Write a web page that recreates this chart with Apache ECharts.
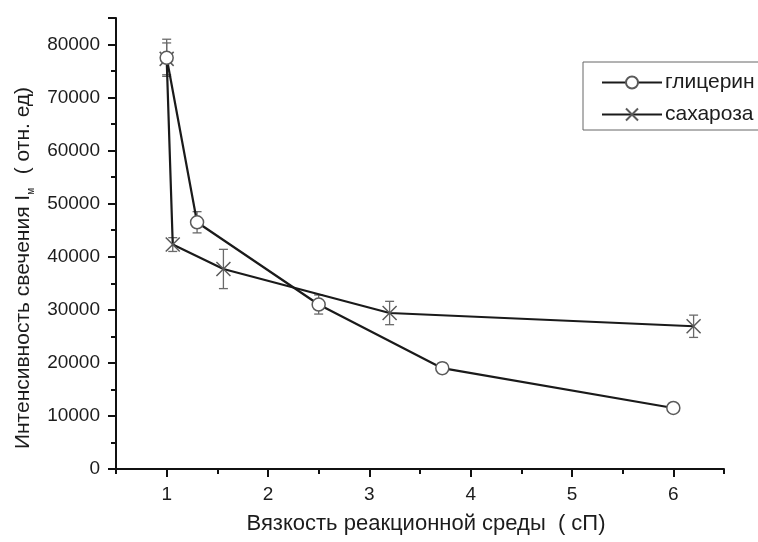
<!DOCTYPE html>
<html>
<head>
<meta charset="utf-8">
<script src="https://cdn.jsdelivr.net/npm/echarts@6/dist/echarts.min.js"></script>
<style>html,body{margin:0;padding:0;background:#fff}#c{width:758px;height:542px}</style>
</head>
<body>
<div id="c"></div>
<script>
// Data
const seriesNames = ['глицерин', 'сахароза'];
const glyX = [1.0, 1.3, 2.5, 3.72, 6.0];
const glyY = [77500, 46500, 31000, 19000, 11500];
const glyErr = [3500, 2000, 1800, 1000, 600];
const sucX = [1.0, 1.06, 1.56, 3.2, 6.2];
const sucY = [77300, 42300, 37700, 29400, 26900];
const sucErr = [3000, 1300, 3700, 2200, 2100];
const xTickLabels = [1, 2, 3, 4, 5, 6];
const xMinorTicks = [0.5, 1.5, 2.5, 3.5, 4.5, 5.5, 6.5];
const xTitle = 'Вязкость реакционной среды  ( сП)';
const yTitleMain = 'Интенсивность свечения I';
const yTitleSub = 'м';
const yTitleTail = '  ( отн. ед)';

const FONT = "'Liberation Sans', Arial, sans-serif";
const TXT = '#1c1c1c';
const pts = (xs, ys) => xs.map((x, i) => [x, ys[i]]);
const errPts = (xs, ys, es) => xs.map((x, i) => [x, ys[i], es[i]]);

function errRender(params, api) {
  const x = api.value(0), y = api.value(1), e = api.value(2);
  const t = api.coord([x, y + e]);
  const b = api.coord([x, y - e]);
  const hw = 4.5;
  const st = { stroke: '#6a6a6a', lineWidth: 1.3, fill: null };
  return {
    type: 'group',
    children: [
      { type: 'line', shape: { x1: t[0], y1: t[1], x2: b[0], y2: b[1] }, style: st },
      { type: 'line', shape: { x1: t[0] - hw, y1: t[1], x2: t[0] + hw, y2: t[1] }, style: st },
      { type: 'line', shape: { x1: b[0] - hw, y1: b[1], x2: b[0] + hw, y2: b[1] }, style: st }
    ]
  };
}

const crossPath = 'path://M0,0L10,10M10,0L0,10';

const chart = echarts.init(document.getElementById('c'), null, { renderer: 'canvas' });
chart.setOption({
  animation: false,
  backgroundColor: '#fff',
  textStyle: { fontFamily: FONT },
  grid: { left: 116, right: 34, top: 18, bottom: 73, containLabel: false },
  legend: {
    orient: 'vertical',
    left: 583,
    top: 62,
    padding: [10, 40, 5, 18],
    itemGap: 11,
    itemWidth: 60,
    itemHeight: 15,
    borderColor: '#666',
    borderWidth: 1,
    borderRadius: 0,
    textStyle: { fontFamily: FONT, fontSize: 21, color: TXT, padding: [0, 0, 0, -2] },
    data: seriesNames
  },
  xAxis: [{
    type: 'value',
    min: 0.5,
    max: 6.5,
    interval: 0.5,
    splitLine: { show: false },
    axisLine: { onZero: false, lineStyle: { color: '#111', width: 2 } },
    axisTick: { show: true, length: 8, customValues: xTickLabels, lineStyle: { color: '#111', width: 2 } },
    axisLabel: { customValues: xTickLabels, fontFamily: FONT, fontSize: 19, color: TXT, margin: 16 },
    name: xTitle,
    nameLocation: 'middle',
    nameGap: 44,
    nameTextStyle: { fontFamily: FONT, fontSize: 22, color: TXT, padding: [0, 0, 0, 12] }
  }, {
    type: 'value',
    position: 'bottom',
    min: 0.5,
    max: 6.5,
    interval: 0.5,
    splitLine: { show: false },
    axisLine: { show: false },
    axisTick: { show: true, length: 5, customValues: xMinorTicks, lineStyle: { color: '#111', width: 2 } },
    axisLabel: { show: false }
  }],
  yAxis: {
    type: 'value',
    min: 0,
    max: 85000,
    interval: 10000,
    splitLine: { show: false },
    axisLine: { lineStyle: { color: '#111', width: 2 } },
    axisTick: { show: true, length: 8, lineStyle: { color: '#111', width: 2 } },
    minorTick: { show: true, splitNumber: 2, length: 5, lineStyle: { color: '#111', width: 2 } },
    axisLabel: { fontFamily: FONT, fontSize: 19, color: TXT, margin: 16, showMaxLabel: false, formatter: v => String(v) }
  },
  graphic: [{
    type: 'text',
    x: 23,
    y: 268,
    rotation: Math.PI / 2,
    style: {
      text: '{m|' + yTitleMain + '}{s|' + yTitleSub + '}{m|' + yTitleTail + '}',
      align: 'center',
      verticalAlign: 'middle',
      fontFamily: FONT,
      rich: {
        m: { fontFamily: FONT, fontSize: 21, fill: TXT, lineHeight: 26, verticalAlign: 'middle' },
        s: { fontFamily: FONT, fontSize: 10, fill: TXT, lineHeight: 26, verticalAlign: 'bottom', padding: [0, 2, 0, 0] }
      }
    }
  }],
  series: [
    {
      type: 'custom',
      name: 'err1',
      renderItem: errRender,
      data: errPts(glyX, glyY, glyErr),
      encode: { x: 0, y: 1 },
      z: 1,
      silent: true
    },
    {
      type: 'custom',
      name: 'err2',
      renderItem: errRender,
      data: errPts(sucX, sucY, sucErr),
      encode: { x: 0, y: 1 },
      z: 1,
      silent: true
    },
    {
      name: seriesNames[0],
      type: 'line',
      data: pts(glyX, glyY),
      symbol: 'circle',
      symbolSize: 13,
      showAllSymbol: true,
      lineStyle: { color: '#1a1a1a', width: 2.2 },
      itemStyle: { color: '#fff', borderColor: '#5a5a5a', borderWidth: 1.5 },
      z: 3
    },
    {
      name: seriesNames[1],
      type: 'line',
      data: pts(sucX, sucY),
      symbol: crossPath,
      symbolSize: 14,
      showAllSymbol: true,
      lineStyle: { color: '#1a1a1a', width: 2.2 },
      itemStyle: { color: 'rgba(255,255,255,0)', borderColor: '#5a5a5a', borderWidth: 1.5 },
      z: 2
    }
  ]
});
</script>
</body>
</html>
